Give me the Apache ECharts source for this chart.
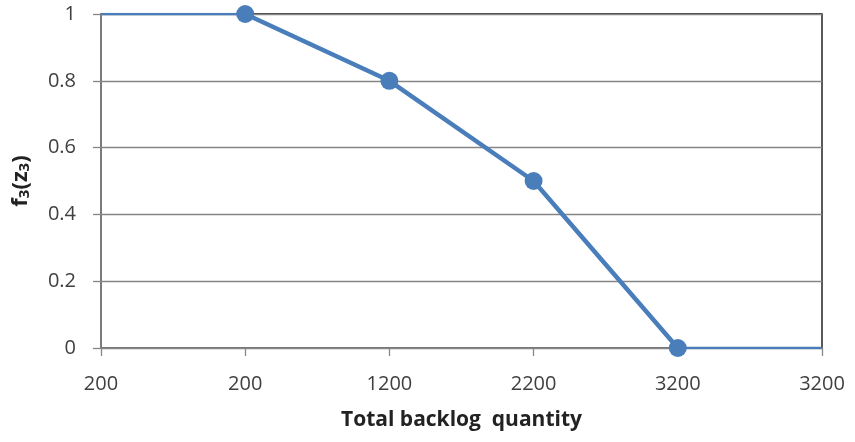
<!DOCTYPE html>
<html>
<head>
<meta charset="utf-8">
<script src="https://cdn.jsdelivr.net/npm/echarts@6/dist/echarts.min.js"></script>
<style>html,body{margin:0;padding:0;background:#fff}#c{width:855px;height:442px}</style>
</head>
<body>
<div id="c"></div>
<script>
var categories = ['200', '200', '1200', '2200', '3200', '3200'];
var fullLine = [1, 1, 0.8, 0.5, 0, 0];
var markedLine = [null, 1, 0.8, 0.5, 0, null];
var yTicks = [0, 0.2, 0.4, 0.6, 0.8, 1];

var chart = echarts.init(document.getElementById('c'), null, {renderer: 'canvas'});
var blue = '#4a7ebb';
var txt = '#404040';
var tickFont = 'Open Sans';
var titleFont = 'Open Sans';
chart.setOption({
  animation: false,
  grid: {left: 101, right: 33, top: 14, bottom: 94, show: true, borderColor: '#000', borderWidth: 1.3, backgroundColor: 'transparent'},
  xAxis: {
    type: 'category',
    data: categories,
    boundaryGap: false,
    axisLine: {lineStyle: {color: '#868686', width: 1.5}},
    axisTick: {show: true, length: 8, lineStyle: {color: '#868686', width: 1.3}},
    axisLabel: {color: txt, fontSize: 20, fontFamily: tickFont, margin: 26},
    splitLine: {show: false},
    name: 'Total backlog  quantity',
    nameLocation: 'middle',
    nameGap: 62,
    nameTextStyle: {color: '#222', fontSize: 21, fontWeight: 'bold', fontFamily: titleFont}
  },
  yAxis: {
    type: 'value',
    min: yTicks[0],
    max: yTicks[yTicks.length - 1],
    interval: 0.2,
    axisLine: {show: true, lineStyle: {color: '#868686', width: 1.5}},
    axisTick: {show: true, length: 8, lineStyle: {color: '#868686', width: 1.3}},
    axisLabel: {color: txt, fontSize: 20, fontFamily: tickFont, margin: 25},
    splitLine: {show: true, lineStyle: {color: '#868686', width: 1.3}},
    name: '{b|f}{s|3}{b|(z}{s|3}{b|)}',
    nameLocation: 'middle',
    nameGap: 69,
    nameTextStyle: {
      color: '#222', fontFamily: titleFont,
      rich: {
        b: {fontSize: 22, fontWeight: 'bold', fontFamily: titleFont, color: '#222'},
        s: {fontSize: 15, fontWeight: 'bold', fontFamily: titleFont, color: '#222', verticalAlign: 'bottom', padding: [8, 0, 0, 0]}
      }
    }
  },
  series: [
    {
      type: 'line',
      data: fullLine,
      showSymbol: false,
      symbol: 'none',
      lineStyle: {color: blue, width: 2.5},
      z: 3
    },
    {
      type: 'line',
      data: markedLine,
      symbol: 'circle',
      symbolSize: 18,
      showAllSymbol: true,
      itemStyle: {color: blue},
      lineStyle: {color: blue, width: 4.5},
      z: 4
    }
  ]
});
</script>
</body>
</html>
